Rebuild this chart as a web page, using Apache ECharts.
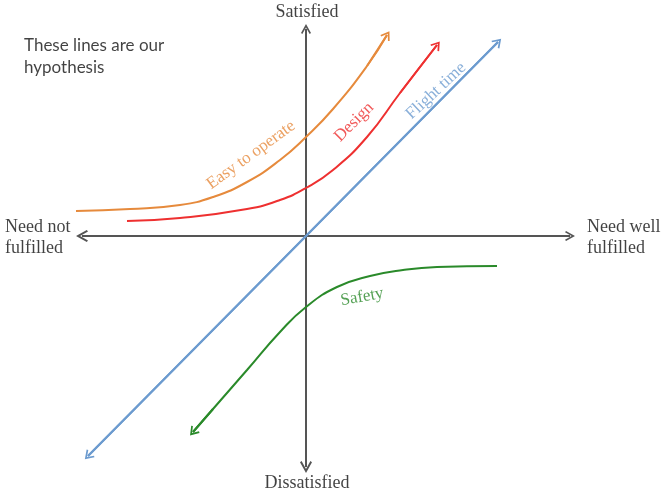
<!DOCTYPE html>
<html><head><meta charset="utf-8">
<script src="https://cdn.jsdelivr.net/npm/echarts@6.0.0/dist/echarts.min.js"></script>
<style>html,body{margin:0;padding:0;background:#fff}#c{width:662px;height:493px}</style>
</head><body><div id="c"></div>
<script>
// Kano-style diagram. Coordinates: origin at axes crossing, x right, y up.
const easyToOperate = [[-230,25],[-176,27],[-126,31],[-93,39],[-59,54],[-26,76],[0,99],[27,127],[61,170],[81,201]];
const design = [[-179,15],[-126,18],[-59,27],[-26,36],[0,48],[27,66],[61,99],[94,143],[131,191]];
const flightTime = [[-218,-220],[0,0],[192,194]];
const safety = [[-113,-196],[-93,-173],[-59,-134],[-26,-96],[0,-71],[31,-51],[64,-40],[97,-34],[131,-31],[191,-30]];
const xAxisEnds = [[-224,0],[264,0]];
const yAxisEnds = [[0,-231],[0,207]];
const curveLabels = [
  {name:'Easy to operate', pos:[-55,81], rotate:36, color:'#E68A3C'},
  {name:'Design', pos:[48,114], rotate:45, color:'#EE3030'},
  {name:'Flight time', pos:[130,145], rotate:43, color:'#6C9BCF'},
  {name:'Safety', pos:[56,-61], rotate:10, color:'#2A8A2A'}
];
const axisTexts = [
  {name:'Satisfied', pos:[1,224], align:'center'},
  {name:'Dissatisfied', pos:[1,-247], align:'center'},
  {name:'Need not\nfulfilled', pos:[-301,-2], align:'left'},
  {name:'Need well\nfulfilled', pos:[281,-2], align:'left'}
];
const noteText = {name:'These lines are our\nhypothesis', pos:[-282,179]};

const chevron = 'path://M0,9 L6,0 L12,9 L10.4,10 L6,3.4 L1.6,10 Z';
const SERIF = '"Liberation Serif","DejaVu Serif",serif';

function curve(name, data, color, arrowStart, arrowEnd) {
  const n = data.length;
  const ml = [];
  if (arrowEnd) ml.push([{coord:data[n-2]},{coord:data[n-1]}]);
  if (arrowStart) ml.push([{coord:data[1]},{coord:data[0]}]);
  return {
    type:'line', name, data, smooth:0.5, showSymbol:false, symbol:'none',
    lineStyle:{color, width:2}, itemStyle:{color}, z:3,
    markLine:{silent:true, symbol:['none', chevron], symbolSize:[11,9],
      lineStyle:{color, width:2, type:'solid', curveness:0}, label:{show:false}, data:ml}
  };
}

const chart = echarts.init(document.getElementById('c'));
chart.setOption({
  animation:false,
  grid:{left:0,right:0,top:0,bottom:0},
  xAxis:{type:'value', min:-306, max:356, show:false},
  yAxis:{type:'value', min:-257, max:236, show:false},
  series:[
    {type:'lines', coordinateSystem:'cartesian2d', polyline:false, z:2,
      symbol:[chevron, chevron], symbolSize:[12,10],
      lineStyle:{color:'#555555', width:2, opacity:1},
      data:[{coords:xAxisEnds},{coords:yAxisEnds}]},
    curve('Easy to operate', easyToOperate, '#E68A3C', false, true),
    curve('Design', design, '#EE3030', false, true),
    curve('Flight time', flightTime, '#6C9BCF', true, true),
    curve('Safety', safety, '#2A8A2A', true, false),
    {type:'scatter', symbolSize:0, z:5, silent:true,
      data: curveLabels.map(l => ({name:l.name, value:l.pos,
        label:{show:true, position:'inside', formatter:'{b}', rotate:l.rotate, color:l.color,
          fontFamily:SERIF, fontSize:17}}))},
    {type:'scatter', symbolSize:0, z:5, silent:true,
      data: axisTexts.map(l => ({name:l.name, value:l.pos,
        label:{show:true, position:'inside', formatter:'{b}', align:l.align, verticalAlign:'middle',
          color:'#111', fontFamily:SERIF, fontSize:18, lineHeight:21}}))
        .concat([{name:noteText.name, value:noteText.pos,
          label:{show:true, position:'inside', formatter:'{b}', align:'left', verticalAlign:'middle',
            color:'#111', fontFamily:'Lato, "Open Sans", sans-serif', fontSize:17, lineHeight:22}}])}
  ]
});
</script></body></html>
